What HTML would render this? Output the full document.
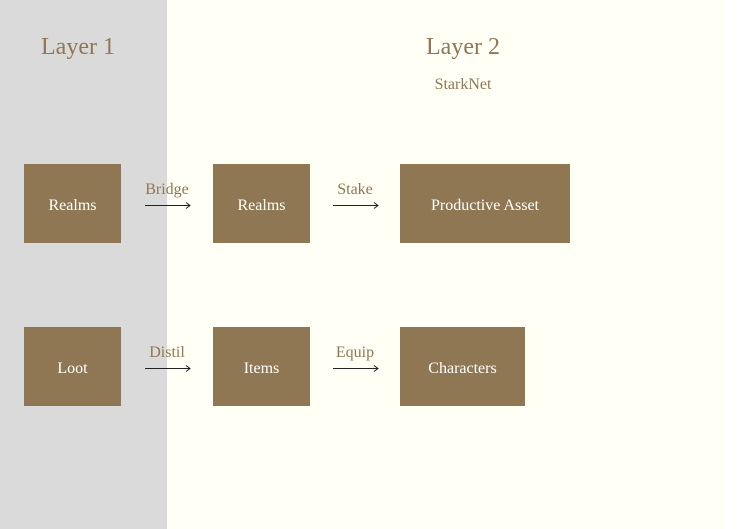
<!DOCTYPE html>
<html><head><style>
body{margin:0;width:753px;height:529px;background:#fff;position:relative;overflow:hidden;font-family:"Liberation Serif",serif;}
.a{position:absolute}
.box{position:absolute;background:#8f7753;color:#fff;font-size:16px;display:flex;align-items:center;justify-content:center;box-sizing:border-box;padding-top:4px}
.t{position:absolute;color:#8f7753;text-align:center;transform:translateX(-50%);white-space:nowrap}
</style></head><body>
<div class="a" style="left:0;top:0;width:167px;height:529px;background:#dadada"></div>
<div class="a" style="left:167px;top:0;width:558px;height:529px;background:#fffff5"></div>
<div class="t" style="left:78px;top:34px;font-size:24px">Layer 1</div>
<div class="t" style="left:463px;top:34px;font-size:24px">Layer 2</div>
<div class="t" style="left:463px;top:76px;font-size:16px">StarkNet</div>
<div class="box" style="left:24px;top:164px;width:97px;height:79px">Realms</div>
<div class="box" style="left:213px;top:164px;width:97px;height:79px">Realms</div>
<div class="box" style="left:400px;top:164px;width:170px;height:79px">Productive Asset</div>
<div class="box" style="left:24px;top:327px;width:97px;height:79px">Loot</div>
<div class="box" style="left:213px;top:327px;width:97px;height:79px">Items</div>
<div class="box" style="left:400px;top:327px;width:125px;height:79px">Characters</div>
<div class="t" style="left:167px;top:181px;font-size:16px">Bridge</div>
<div class="t" style="left:355px;top:181px;font-size:16px">Stake</div>
<div class="t" style="left:167px;top:344px;font-size:16px">Distil</div>
<div class="t" style="left:355px;top:344px;font-size:16px">Equip</div>
<svg class="a" style="left:0;top:0" width="753" height="529">
<g stroke="#222" stroke-width="1" fill="none">
<path d="M145 205.5H190M186 202.5L190 205.5L186 208.5"/>
<path d="M333 205.5H378M374 202.5L378 205.5L374 208.5"/>
<path d="M145 368.5H190M186 365.5L190 368.5L186 371.5"/>
<path d="M333 368.5H378M374 365.5L378 368.5L374 371.5"/>
</g></svg>
</body></html>
